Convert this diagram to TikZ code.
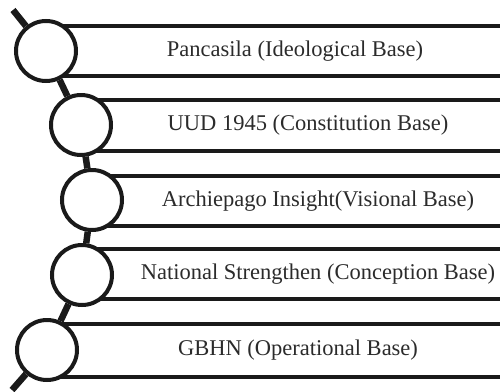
\documentclass[tikz,border=0pt]{standalone}
\usepackage{fontspec}
\setmainfont{Liberation Serif}
\definecolor{ink}{HTML}{1A1A1A}
\definecolor{txt}{HTML}{2B2B2B}
\begin{document}
\begin{tikzpicture}[x=1pt, y=-1pt,
            band/.style={ink, line width=4pt},
            ring/.style={circle, draw=ink, fill=white, line width=4pt, minimum size=60pt, inner sep=0pt},
            spine/.style={ink, line width=6.5pt},
            basetext/.style={txt, font=\fontsize{22.5}{27}\selectfont}]
            \useasboundingbox (0, 0) rectangle (500, 391);

            \coordinate (p1) at (46, 51);
            \coordinate (p2) at (81, 125);
            \coordinate (p3) at (92, 200);
            \coordinate (p4) at (82, 275);
            \coordinate (p5) at (47, 350);
            \coordinate (top) at (13, 10);
            \coordinate (bottom) at (12, 390);

            \draw [band] (p1 |- 0, 26) -- (500, 26);
            \draw [band] (p1 |- 0, 76) -- (500, 76);
            \draw [band] (p2 |- 0, 100) -- (500, 100);
            \draw [band] (p2 |- 0, 151) -- (500, 151);
            \draw [band] (p3 |- 0, 176) -- (500, 176);
            \draw [band] (p3 |- 0, 226) -- (500, 226);
            \draw [band] (p4 |- 0, 249) -- (500, 249);
            \draw [band] (p4 |- 0, 299) -- (500, 299);
            \draw [band] (p5 |- 0, 324) -- (500, 324);
            \draw [band] (p5 |- 0, 377) -- (500, 377);

            \node (c1) at (p1) [ring] {};
            \node (c2) at (p2) [ring] {};
            \node (c3) at (p3) [ring] {};
            \node (c4) at (p4) [ring] {};
            \node (c5) at (p5) [ring] {};

            \draw [spine] (top) -- (c1);
            \draw [spine] (c1) -- (c2);
            \draw [spine] (c2) -- (c3);
            \draw [spine] (c3) -- (c4);
            \draw [spine] (c4) -- (c5);
            \draw [spine] (c5) -- (bottom);

            \node (t1) at (295, 51) [basetext] {Pancasila (Ideological Base)};
            \node (t2) at (308, 125) [basetext] {UUD 1945 (Constitution Base)};
            \node (t3) at (318, 201) [basetext] {Archiepago Insight(Visional Base)};
            \node (t4) at (318, 274) [basetext] {National Strengthen (Conception Base)};
            \node (t5) at (298, 350) [basetext] {GBHN (Operational Base)};
          \end{tikzpicture}
\end{document}
